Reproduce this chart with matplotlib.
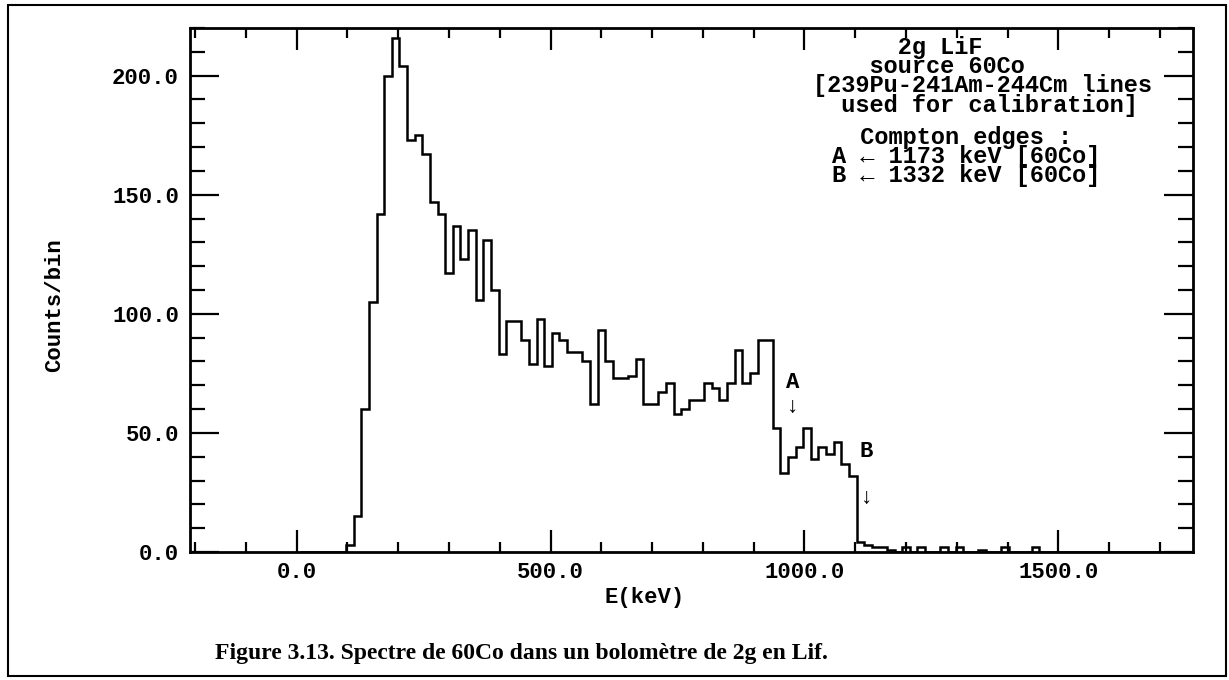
import numpy as np
import matplotlib.pyplot as plt
from matplotlib.patches import Rectangle
from matplotlib.ticker import MultipleLocator, FixedLocator

# spectrum: 15 keV bins, first edge at 7.5 keV
bin_width = 15.0
first_edge = 7.5
counts = [0, 0, 0, 0, 0, 0, 3, 15, 60, 105,
          142, 200, 216, 204, 173, 175, 167, 147, 142, 117,
          137, 123, 135, 106, 131, 110, 83, 97, 97, 89,
          79, 98, 78, 92, 89, 84, 84, 80, 62, 93,
          80, 73, 73, 74, 81, 62, 62, 67, 71, 58,
          60, 64, 64, 71, 69, 64, 71, 85, 71, 75,
          89, 89, 52, 33, 40, 44, 52, 39, 44, 41,
          46, 37, 32, 4, 3, 2, 2, 1, 0, 2,
          0, 2, 0, 0, 2, 0, 2, 0, 0, 1,
          0, 0, 2, 0, 0, 0, 2, 0, 0, 0,
          0, 0, 0, 0, 0, 0, 0, 0, 0, 0,
          0, 0, 0, 0, 0, 0, 0]

x_ticks = [0, 500, 1000, 1500]
x_tick_labels = ["0.0", "500.0", "1000.0", "1500.0"]
y_ticks = [0, 50, 100, 150, 200]
y_tick_labels = ["0.0", "50.0", "100.0", "150.0", "200.0"]

# leading spaces reproduce the ragged centring of the plotter text
info_top = ["      2g LiF",
            "    source 60Co",
            "[239Pu-241Am-244Cm lines",
            "  used for calibration]"]
info_bottom = ["  Compton edges :",
               "A \u2190 1173 keV [60Co]",
               "B \u2190 1332 keV [60Co]"]

caption = "Figure 3.13. Spectre de 60Co dans un bolom\u00e8tre de 2g en Lif."

W, H = 1229, 680
mono = dict(family="Liberation Mono", weight="bold", size=16)
mono_big = dict(family="Liberation Mono", weight="bold", size=17)


def px(x, y):
    return x / W, 1 - y / H


edges = first_edge + bin_width * np.arange(len(counts) + 1)

fig = plt.figure(figsize=(W / 100, H / 100), dpi=100)
ax = fig.add_axes([190 / W, 1 - 552 / H, (1193 - 190) / W, (552 - 28) / H])

ax.stairs(counts, edges, color="black", lw=1.8)
ax.set_xlim(-210, 1765)
ax.set_ylim(0, 220)

ax.xaxis.set_major_locator(FixedLocator(x_ticks))
ax.xaxis.set_minor_locator(MultipleLocator(100))
ax.yaxis.set_major_locator(FixedLocator(y_ticks))
ax.yaxis.set_minor_locator(MultipleLocator(10))
ax.set_xticklabels(x_tick_labels, fontdict=mono)
ax.set_yticklabels(y_tick_labels, fontdict=mono)

ax.tick_params(which="both", direction="in", top=True, right=True,
               width=1.6, color="black")
ax.tick_params(axis="x", which="major", length=16, pad=7)
ax.tick_params(axis="x", which="minor", length=7)
ax.tick_params(axis="y", which="major", length=21, pad=8)
ax.tick_params(axis="y", which="minor", length=11)
for s in ax.spines.values():
    s.set_linewidth(2)

ax.set_xlabel("E(keV)", fontdict=mono)
ax.xaxis.set_label_coords((645 - 190) / (1193 - 190), (552 - 598) / (552 - 28))
ax.set_ylabel("Counts/bin", fontdict=mono)
ax.yaxis.set_label_coords((55 - 190) / (1193 - 190), (552 - 305) / (552 - 28))
ax.xaxis.label.set_va("center")
ax.yaxis.label.set_va("center")

# Compton edge markers
ax.text(976, 71, "A", ha="center", va="center", **mono)
ax.text(976, 61, "\u2193", ha="center", va="center", **mono)
ax.text(1122, 42, "B", ha="center", va="center", **mono)
ax.text(1122, 23, "\u2193", ha="center", va="center", **mono)

fig.text(*px(813, 36), "\n".join(info_top), ha="left", va="top",
         linespacing=0.79, **mono_big)
fig.text(*px(832, 126), "\n".join(info_bottom), ha="left", va="top",
         linespacing=0.79, **mono_big)

fig.text(*px(215, 653), caption, ha="left", va="center",
         family="Liberation Serif", weight="bold", size=17)

fig.add_artist(Rectangle(px(8, 676), (1226 - 8) / W, (676 - 5) / H,
                         transform=fig.transFigure, fill=False,
                         lw=1.5, color="black"))

fig.savefig("out.png", dpi=100)
